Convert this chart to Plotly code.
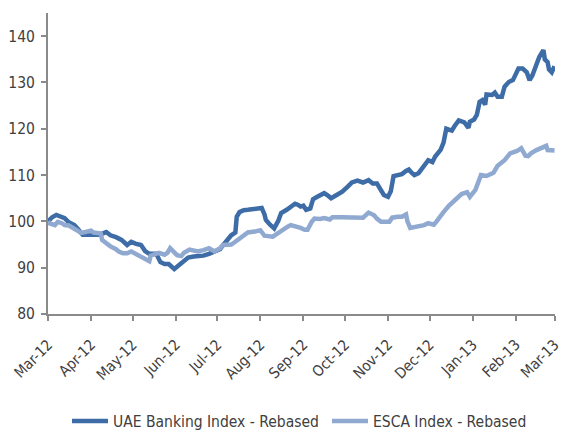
import plotly.graph_objects as go

uae_dates = [
    "2012-03-01", "2012-03-02", "2012-03-04", "2012-03-07", "2012-03-09", "2012-03-13", "2012-03-16",
    "2012-03-20", "2012-03-23", "2012-03-26", "2012-03-30", "2012-04-03", "2012-04-07", "2012-04-12",
    "2012-04-15", "2012-04-19", "2012-04-23", "2012-04-27", "2012-04-30", "2012-05-03", "2012-05-07",
    "2012-05-10", "2012-05-13", "2012-05-18", "2012-05-21", "2012-05-24", "2012-05-27", "2012-05-31",
    "2012-06-03", "2012-06-07", "2012-06-10", "2012-06-14", "2012-06-18", "2012-06-21", "2012-06-25",
    "2012-06-29", "2012-07-03", "2012-07-05", "2012-07-08", "2012-07-11", "2012-07-14", "2012-07-15",
    "2012-07-17", "2012-07-20", "2012-07-23", "2012-07-28", "2012-08-02", "2012-08-04", "2012-08-05",
    "2012-08-08", "2012-08-11", "2012-08-14", "2012-08-16", "2012-08-20", "2012-08-23", "2012-08-26",
    "2012-08-28", "2012-08-30", "2012-09-01", "2012-09-03", "2012-09-06", "2012-09-08", "2012-09-11",
    "2012-09-14", "2012-09-16", "2012-09-19", "2012-09-21", "2012-09-25", "2012-09-29", "2012-10-03",
    "2012-10-06", "2012-10-10", "2012-10-14", "2012-10-18", "2012-10-21", "2012-10-24", "2012-10-27",
    "2012-10-29", "2012-11-01", "2012-11-03", "2012-11-05", "2012-11-09", "2012-11-11", "2012-11-14",
    "2012-11-16", "2012-11-18", "2012-11-20", "2012-11-23", "2012-11-27", "2012-11-30", "2012-12-03",
    "2012-12-05", "2012-12-09", "2012-12-11", "2012-12-13", "2012-12-17", "2012-12-19", "2012-12-22",
    "2012-12-26", "2012-12-29", "2012-12-30", "2013-01-02", "2013-01-04", "2013-01-06", "2013-01-08",
    "2013-01-10", "2013-01-11", "2013-01-15", "2013-01-17", "2013-01-19", "2013-01-22", "2013-01-24",
    "2013-01-27", "2013-01-30", "2013-02-03", "2013-02-06", "2013-02-09", "2013-02-11", "2013-02-13",
    "2013-02-15", "2013-02-18", "2013-02-21", "2013-02-22", "2013-02-24", "2013-02-25", "2013-02-27",
    "2013-03-01",
]
uae_values = [
    100.0, 100.3, 100.9, 101.4, 101.1, 100.7, 99.8,
    99.2, 98.2, 97.1, 97.1, 97.1, 97.1, 97.7,
    97.0, 96.6, 96.0, 94.9, 95.6, 95.2, 94.9,
    93.6, 93.0, 93.0, 91.2, 90.8, 90.8, 89.7,
    90.4, 91.2, 92.2, 92.4, 92.5, 92.6, 93.0,
    93.5, 94.0, 94.8, 95.8, 97.0, 97.6, 101.0,
    102.0, 102.4, 102.5, 102.6, 102.9, 101.5, 100.3,
    99.3, 98.5, 100.2, 101.8, 102.5, 103.3, 103.8,
    103.6, 103.2, 103.4, 102.5, 102.8, 104.8, 105.3,
    105.7, 106.1, 105.5, 105.0, 105.7, 106.4, 107.5,
    108.4, 108.8, 108.4, 108.9, 108.2, 108.2, 106.5,
    105.7, 105.3, 106.5, 109.8, 110.0, 110.2, 110.9,
    111.2, 110.5, 110.0, 110.4, 111.8, 113.2, 112.8,
    114.0, 115.5, 117.0, 120.0, 119.6, 120.6, 121.8,
    121.4, 120.2, 121.5, 122.0, 123.0, 125.8, 126.2,
    125.2, 127.4, 127.3, 127.8, 126.9, 126.9, 129.1,
    130.1, 130.5, 133.0, 133.0, 132.2, 130.5, 131.5,
    133.0, 135.5, 137.0, 135.0, 134.4, 132.8, 132.2,
    133.5,
]

esca_dates = [
    "2012-03-01", "2012-03-02", "2012-03-06", "2012-03-08", "2012-03-11", "2012-03-13", "2012-03-16",
    "2012-03-19", "2012-03-22", "2012-03-25", "2012-03-28", "2012-04-01", "2012-04-03", "2012-04-06",
    "2012-04-08", "2012-04-09", "2012-04-12", "2012-04-15", "2012-04-19", "2012-04-21", "2012-04-24",
    "2012-04-27", "2012-04-30", "2012-05-04", "2012-05-07", "2012-05-10", "2012-05-13", "2012-05-14",
    "2012-05-17", "2012-05-20", "2012-05-24", "2012-05-26", "2012-05-28", "2012-05-31", "2012-06-02",
    "2012-06-05", "2012-06-07", "2012-06-11", "2012-06-14", "2012-06-17", "2012-06-21", "2012-06-25",
    "2012-06-29", "2012-07-03", "2012-07-05", "2012-07-09", "2012-07-11", "2012-07-14", "2012-07-16",
    "2012-07-20", "2012-07-23", "2012-07-28", "2012-08-01", "2012-08-04", "2012-08-07", "2012-08-10",
    "2012-08-14", "2012-08-17", "2012-08-21", "2012-08-23", "2012-08-26", "2012-08-28", "2012-08-30",
    "2012-09-02", "2012-09-04", "2012-09-07", "2012-09-09", "2012-09-13", "2012-09-16", "2012-09-20",
    "2012-09-22", "2012-09-29", "2012-10-04", "2012-10-10", "2012-10-14", "2012-10-18", "2012-10-22",
    "2012-10-24", "2012-10-27", "2012-11-02", "2012-11-04", "2012-11-08", "2012-11-11", "2012-11-14",
    "2012-11-15", "2012-11-17", "2012-11-22", "2012-11-24", "2012-11-27", "2012-11-30", "2012-12-04",
    "2012-12-06", "2012-12-09", "2012-12-11", "2012-12-15", "2012-12-18", "2012-12-21", "2012-12-24",
    "2012-12-28", "2012-12-30", "2013-01-03", "2013-01-05", "2013-01-07", "2013-01-11", "2013-01-16",
    "2013-01-19", "2013-01-24", "2013-01-28", "2013-02-02", "2013-02-05", "2013-02-08", "2013-02-10",
    "2013-02-12", "2013-02-16", "2013-02-20", "2013-02-23", "2013-02-24", "2013-02-27", "2013-03-01",
]
esca_values = [
    100.0, 99.6, 99.2, 99.9, 99.6, 99.2, 99.1,
    98.5, 97.9, 97.5, 97.7, 98.0, 97.6, 97.5,
    97.4, 96.0, 95.3, 94.6, 94.0, 93.5, 93.1,
    93.1, 93.5, 92.8, 92.5, 91.8, 91.4, 92.6,
    93.0, 93.2, 92.8, 93.2, 94.2, 93.1, 92.7,
    92.5, 93.2, 93.9, 93.7, 93.5, 93.8, 94.2,
    93.5, 94.2, 94.9, 94.9, 95.0, 95.6, 96.0,
    96.8, 97.6, 97.8, 98.1, 96.9, 96.7, 96.7,
    97.5, 98.2, 98.9, 99.2, 99.0, 98.8, 98.6,
    98.2, 98.2, 99.9, 100.6, 100.5, 100.7, 100.4,
    100.9, 100.9, 100.9, 100.9, 100.8, 101.9, 101.3,
    100.6, 99.9, 99.9, 100.8, 101.0, 101.0, 101.5,
    100.0, 98.6, 98.8, 98.9, 99.2, 99.6, 99.3,
    100.0, 101.0, 102.0, 103.4, 104.3, 105.0, 105.9,
    106.3, 105.3, 106.8, 108.5, 110.0, 109.8, 110.5,
    112.0, 113.2, 114.7, 115.2, 115.8, 114.2, 114.1,
    114.7, 115.4, 115.8, 116.3, 115.4, 115.3, 115.3,
]

series_names = ["UAE Banking Index - Rebased", "ESCA Index - Rebased"]
y_ticks = [80, 90, 100, 110, 120, 130, 140]

FONT = "DejaVu Sans Condensed, sans-serif"
FS = 15.5
TXT = "#404040"
AX = "#8a8a8a"

fig = go.Figure()
fig.add_trace(go.Scatter(x=uae_dates, y=uae_values, mode="lines", name=series_names[0],
                         line=dict(color="#3D6CA7", width=4.5), legend="legend"))
fig.add_trace(go.Scatter(x=esca_dates, y=esca_values, mode="lines", name=series_names[1],
                         line=dict(color="#8FA9D0", width=4.5), legend="legend2"))

leg_common = dict(orientation="h", xref="container", yref="container",
                  xanchor="left", yanchor="middle", y=0.02,
                  font=dict(family=FONT, size=FS, color=TXT),
                  bgcolor="rgba(0,0,0,0)", itemwidth=36)

fig.update_layout(
    width=561, height=430,
    margin=dict(l=48, r=6, t=13, b=116, autoexpand=False),
    paper_bgcolor="white", plot_bgcolor="white",
    font=dict(family=FONT, size=FS, color=TXT),
    showlegend=True,
    legend=dict(x=67 / 561, **leg_common),
    legend2=dict(x=327 / 561, **leg_common),
)
fig.update_xaxes(
    type="date", range=["2012-03-01", "2013-03-01 08:00"],
    tick0="2012-03-01", dtick="M1", tickformat="%b-%y", tickangle=-45,
    ticklabeloverflow="allow", ticklabelstandoff=9,
    showgrid=False, zeroline=False, automargin=False,
    showline=True, linecolor=AX, linewidth=2,
    ticks="outside", ticklen=5, tickcolor=AX, tickwidth=1.5,
    tickfont=dict(family=FONT, size=15, color=TXT),
)
fig.update_yaxes(
    range=[80, 145], tickvals=y_ticks,
    showgrid=False, zeroline=False, automargin=False,
    showline=True, linecolor=AX, linewidth=2,
    ticks="outside", ticklen=5, tickcolor=AX, tickwidth=1.5,
    ticklabelstandoff=3,
    tickfont=dict(family=FONT, size=FS, color=TXT),
)

fig.write_html(
    "out.html",
    config={"displayModeBar": False},
    post_script="document.body.style.margin='0';document.body.style.overflow='hidden';",
)
